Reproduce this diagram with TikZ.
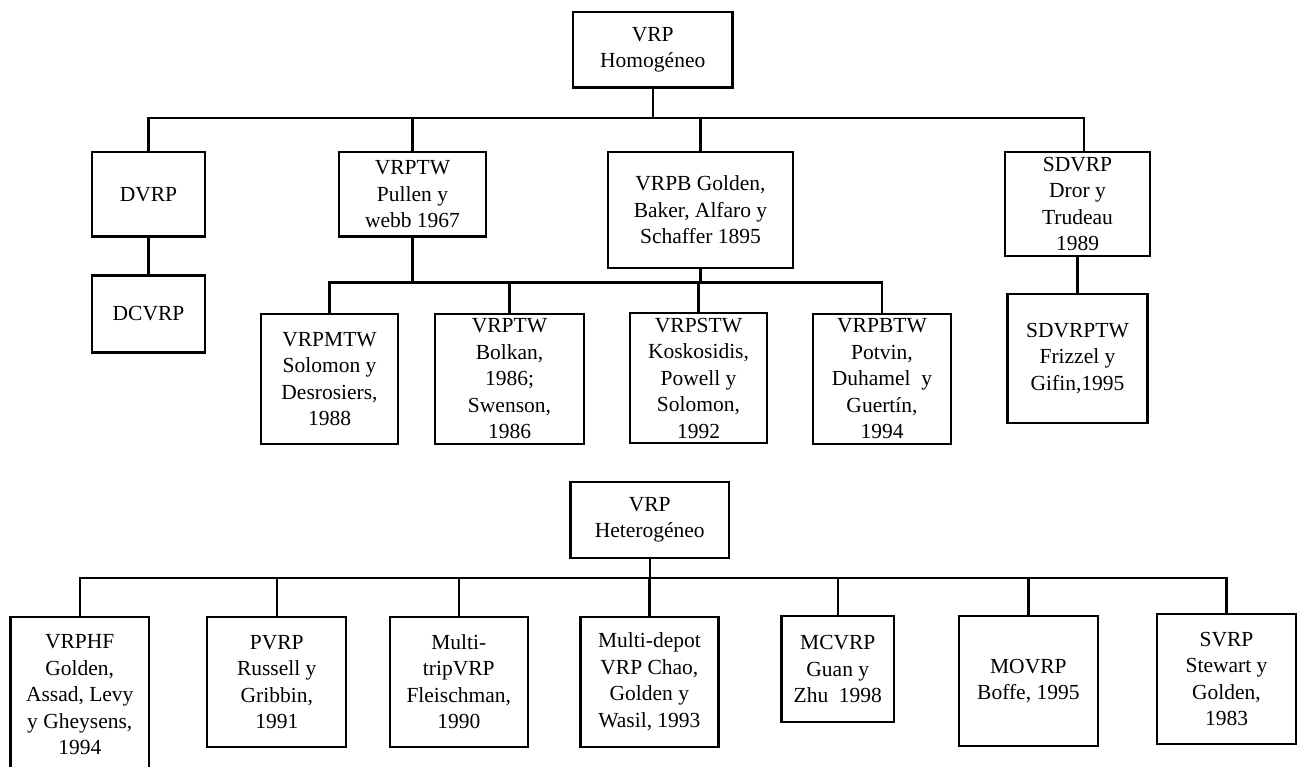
\documentclass[tikz,border=0pt]{standalone}
\usepackage{fontspec}
\setmainfont{Liberation Serif}
\begin{document}
\begin{tikzpicture}[x=1pt,y=-1pt,
  box/.style={draw, line width=2.3pt, inner sep=0pt, align=center,
    font=\fontsize{21.5}{26.5}\selectfont},
  wire/.style={line width=2.3pt}]
\useasboundingbox (0,0) rectangle (1300,766);
\fill[white] (0,0) rectangle (1300,766);

% ---- homogeneous fleet tree ----
\node[box, minimum width=159.5pt, minimum height=75.5pt] (homo) at (652.75,49.75) {VRP\\Homogéneo};
\node[box, minimum width=113pt, minimum height=84.5pt] (dvrp) at (148.5,194.25) {DVRP};
\node[box, minimum width=113pt, minimum height=77pt] (dcvrp) at (148.5,314) {DCVRP};
\node[box, minimum width=147pt, minimum height=84.5pt] (vrptw) at (412.5,194.25) {VRPTW\\Pullen y\\webb 1967};
\node[box, minimum width=185pt, minimum height=116pt] (vrpb) at (700.5,210) {VRPB Golden,\\Baker, Alfaro y\\Schaffer 1895};
\node[box, minimum width=145pt, minimum height=104pt] (sdvrp) at (1077.5,204) {SDVRP\\Dror y\\Trudeau\\1989};
\node[box, minimum width=140pt, minimum height=129pt] (sdvrptw) at (1077.5,358.5) {SDVRPTW\\Frizzel y\\Gifin,1995};
\node[box, minimum width=137pt, minimum height=130pt] (vrpmtw) at (329.5,379) {VRPMTW\\Solomon y\\Desrosiers,\\1988};
\node[box, minimum width=149pt, minimum height=130pt] (vrptwb) at (509.5,379) {VRPTW\\Bolkan,\\1986;\\Swenson,\\1986};
\node[box, minimum width=137pt, minimum height=130pt] (vrpstw) at (698.5,378) {VRPSTW\\Koskosidis,\\Powell y\\Solomon,\\1992};
\node[box, minimum width=138pt, minimum height=130pt] (vrpbtw) at (882,379) {VRPBTW\\Potvin,\\Duhamel\ \ y\\Guertín,\\1994};

\coordinate (topbus) at (652.75,118);
\coordinate (subbus) at (698,282.5);
\foreach \c in {dvrp,vrptw,vrpb}
  \draw[wire] (homo.south) -- (homo.south |- topbus) -| (\c.north);
\draw[wire] (homo.south |- topbus) -| ([xshift=6.5pt]sdvrp.north);
\draw[wire] (dvrp.south) -- (dcvrp.north);
\draw[wire] (sdvrp.south) -- (sdvrptw.north);
\draw[wire] (vrptw.south) -- (vrptw.south |- subbus);
\foreach \c in {vrpmtw,vrptwb,vrpstw,vrpbtw}
  \draw[wire] (vrpb.south) -- (vrpb.south |- subbus) -| (\c.north);

% ---- heterogeneous fleet tree ----
\node[box, minimum width=158.5pt, minimum height=76pt] (hetero) at (649.75,519.7) {VRP\\Heterogéneo};
\node[box, minimum width=138.5pt, minimum height=156pt] (vrphf) at (79.75,695) {VRPHF\\Golden,\\Assad, Levy\\y Gheysens,\\1994};
\node[box, minimum width=139pt, minimum height=129.7pt] (pvrp) at (276.75,681.85) {PVRP\\Russell y\\Gribbin,\\1991};
\node[box, minimum width=138pt, minimum height=129.7pt] (multitrip) at (458.75,681.85) {Multi-\\tripVRP\\Fleischman,\\1990};
\node[box, minimum width=138pt, minimum height=129.7pt] (multidepot) at (649.4,681.85) {Multi-depot\\VRP Chao,\\Golden y\\Wasil, 1993};
\node[box, minimum width=112.8pt, minimum height=106.6pt] (mcvrp) at (837.8,669) {MCVRP\\Guan y\\Zhu\ \ 1998};
\node[box, minimum width=139pt, minimum height=130.3pt] (movrp) at (1028.35,680.85) {MOVRP\\Boffe, 1995};
\node[box, minimum width=139pt, minimum height=130pt] (svrp) at (1226.5,679) {SVRP\\Stewart y\\Golden,\\1983};

\coordinate (lowbus) at (650,577.7);
\foreach \c in {vrphf,pvrp,multitrip,multidepot,mcvrp,movrp,svrp}
  \draw[wire] (hetero.south) -- (hetero.south |- lowbus) -| (\c.north);
\end{tikzpicture}
\end{document}
